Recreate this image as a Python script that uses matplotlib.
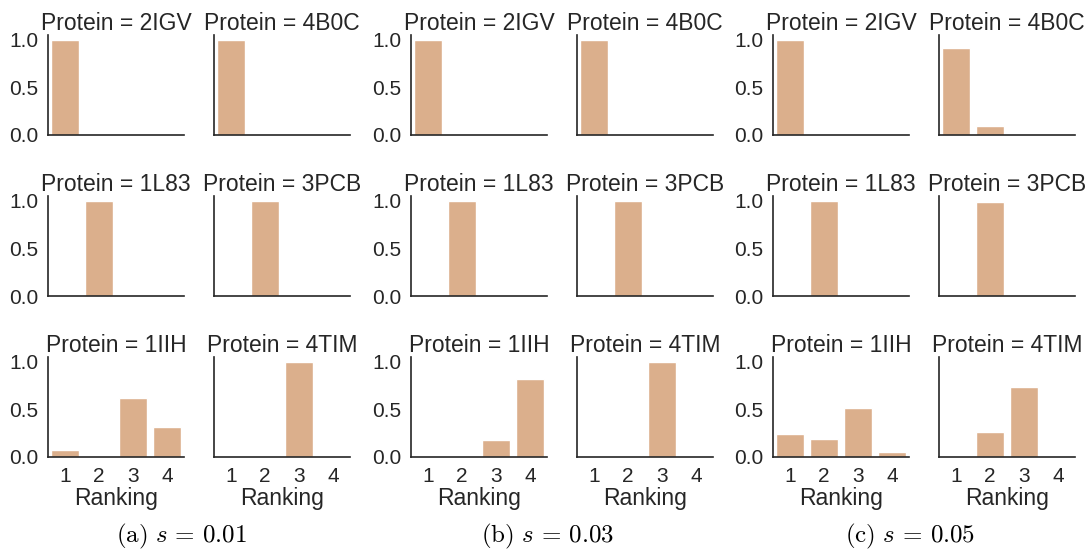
import matplotlib
matplotlib.use("Agg")
import matplotlib.pyplot as plt

plt.rcParams['font.family'] = ['Liberation Sans', 'DejaVu Sans']
plt.rcParams['mathtext.fontset'] = 'cm'
plt.rcParams['text.color'] = '.15'
plt.rcParams['axes.labelcolor'] = '.15'
plt.rcParams['xtick.color'] = '.15'
plt.rcParams['ytick.color'] = '.15'

rankings = [1, 2, 3, 4]
proteins = [['2IGV', '4B0C'], ['1L83', '3PCB'], ['1IIH', '4TIM']]
captions = [r'$\mathrm{(a)}\ s\,=\,0.01$', r'$\mathrm{(b)}\ s\,=\,0.03$', r'$\mathrm{(c)}\ s\,=\,0.05$']

# fraction of runs per ranking, one dict per setting of s
s001 = {
    '2IGV': [1.0, 0.0, 0.0, 0.0],
    '4B0C': [1.0, 0.0, 0.0, 0.0],
    '1L83': [0.0, 1.0, 0.0, 0.0],
    '3PCB': [0.0, 1.0, 0.0, 0.0],
    '1IIH': [0.07, 0.0, 0.62, 0.31],
    '4TIM': [0.0, 0.0, 1.0, 0.0],
}
s003 = {
    '2IGV': [1.0, 0.0, 0.0, 0.0],
    '4B0C': [1.0, 0.0, 0.0, 0.0],
    '1L83': [0.0, 1.0, 0.0, 0.0],
    '3PCB': [0.0, 1.0, 0.0, 0.0],
    '1IIH': [0.0, 0.0, 0.18, 0.82],
    '4TIM': [0.0, 0.0, 1.0, 0.0],
}
s005 = {
    '2IGV': [1.0, 0.0, 0.0, 0.0],
    '4B0C': [0.91, 0.09, 0.0, 0.0],
    '1L83': [0.0, 1.0, 0.0, 0.0],
    '3PCB': [0.005, 0.99, 0.0, 0.0],
    '1IIH': [0.24, 0.19, 0.51, 0.05],
    '4TIM': [0.0, 0.26, 0.74, 0.0],
}
groups = [s001, s003, s005]

bar_color = '#dbaf8c'
W, H = 1088, 552
fig = plt.figure(figsize=(W / 100, H / 100), dpi=100)

# pixel layout of the panels
col_left = [[48, 214], [411, 577], [773, 939]]
row_bottom = [135, 296, 457]
ax_w, ax_h = 136, 100
caption_x = [181, 548, 910]

for g, data in enumerate(groups):
    for r in range(3):
        for c in range(2):
            x0 = col_left[g][c]
            y0 = row_bottom[r]
            ax = fig.add_axes([x0 / W, (H - y0) / H, ax_w / W, ax_h / H])
            name = proteins[r][c]
            ax.bar(range(len(rankings)), data[name], width=0.8,
                   color=bar_color, edgecolor='white', linewidth=1)
            ax.set_xlim(-0.5, 3.5)
            ax.set_ylim(0, 1.05)
            ax.set_yticks([0, 0.5, 1.0])
            ax.set_xticks(range(len(rankings)))
            ax.set_title('Protein = ' + name, fontsize=16.5, pad=3)
            for s in ['top', 'right']:
                ax.spines[s].set_visible(False)
            for s in ['left', 'bottom']:
                ax.spines[s].set_color('#262626')
                ax.spines[s].set_linewidth(1.2)
            ax.tick_params(length=0, labelsize=15, pad=7)
            if c == 0:
                ax.set_yticklabels(['0.0', '0.5', '1.0'])
            else:
                ax.set_yticklabels([])
            if r == 2:
                ax.set_xticklabels([str(k) for k in rankings])
                ax.set_xlabel('Ranking', fontsize=16.5, labelpad=1)
            else:
                ax.set_xticklabels([])
    fig.text(caption_x[g] / W, 1 - 536 / H, captions[g], ha='center', va='center',
             fontsize=18, color='black')

fig.savefig('out.png', dpi=100)
